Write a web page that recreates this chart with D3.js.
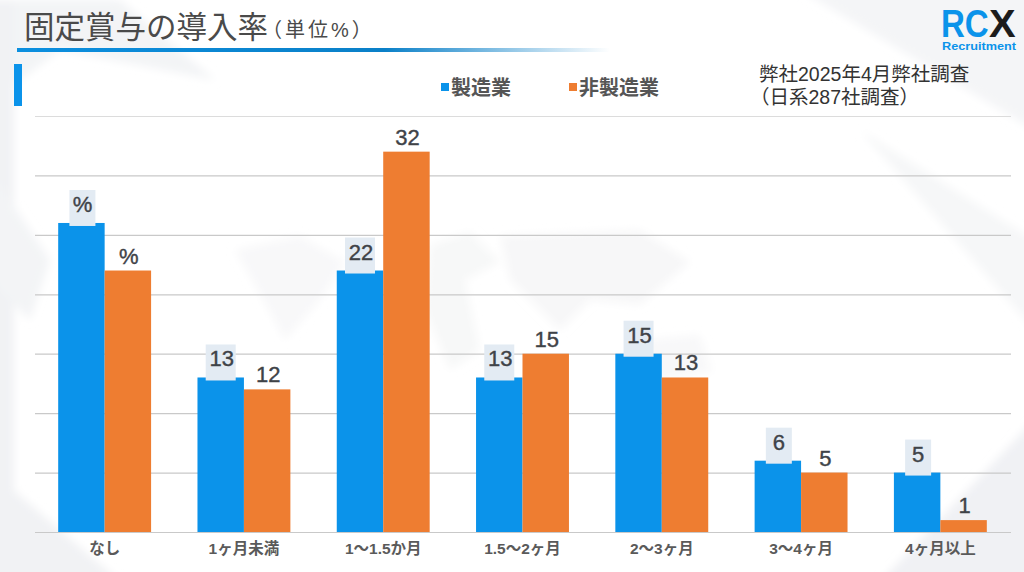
<!DOCTYPE html>
<html lang="ja"><head><meta charset="utf-8">
<script src="https://d3js.org/d3.v7.min.js"></script>
<style>html,body{margin:0;padding:0;background:#fff;overflow:hidden}svg{display:block}
text{font-family:"Liberation Sans","Noto Sans CJK JP",sans-serif}</style></head>
<body><svg id="c" width="1024" height="572"></svg>
<script>
const categories=["なし","1ヶ月未満","1〜1.5か月","1.5〜2ヶ月","2〜3ヶ月","3〜4ヶ月","4ヶ月以上"];
const manufacturing=[26,13,22,13,15,6,5];
const nonManufacturing=[22,12,32,15,13,5,1];
const manufacturingLabels=["%","13","22","13","15","6","5"];
const nonManufacturingLabels=["%","12","32","15","13","5","1"];
const seriesNames=["製造業","非製造業"];
const seriesColors=["#0b93ea","#ee7d31"];
const yTicks=[0,5,10,15,20,25,30,35];

const svg=d3.select("#c");
const defs=svg.append("defs");
const rule=defs.append("linearGradient").attr("id","rule");
[[0,"#0c8fdf",1],[.62,"#0a80c8",1],[1,"#0a80c8",0]].forEach(s=>rule.append("stop").attr("offset",s[0]).attr("stop-color",s[1]).attr("stop-opacity",s[2]));
defs.append("filter").attr("id","soft").attr("x","-20%").attr("y","-20%").attr("width","140%").attr("height","140%")
  .append("feGaussianBlur").attr("stdDeviation",4);

// faint background decoration
const bg=svg.append("g");
bg.append("rect").attr("width",1024).attr("height",572).attr("fill","#ffffff");
const deco=[
 ["M0,0L120,0L215,80L60,50L0,95Z","#f3f4f6"],
 ["M-10,0L14,0L14,582L-10,582Z","#f1f2f4"],
 ["M-10,170L50,260L30,320L-10,280Z","#f3f4f6"],
 ["M-10,470L130,590L-10,590Z","#f1f2f4"],
 ["M800,-10L1034,-10L1034,130Z","#f4f5f7"],
 ["M860,130L1034,240L1034,330Z","#f6f7f8"],
 ["M880,582L1034,420L1034,582Z","#f0f1f4"],
 ["M235,250L300,236L345,262L320,300L285,340L255,285Z","#f8f8f9"],
 ["M430,245L470,232L500,262L465,280L480,350L450,370L425,310Z","#f7f8f8"],
 ["M500,236L640,230L690,262L640,305L590,300L560,330L510,280Z","#f7f7f8"],
 ["M640,340L700,335L712,372L660,380Z","#f8f8f9"]
];
bg.append("g").attr("filter","url(#soft)").selectAll("path").data(deco).join("path").attr("d",d=>d[0]).attr("fill",d=>d[1]);

// header
svg.append("text").attr("x",24).attr("y",38).attr("font-size",30.5).attr("fill","#4a4a4a").text("固定賞与の導入率");
svg.append("text").attr("x",262).attr("y",37).attr("font-size",20).attr("letter-spacing",3).attr("fill","#4a4a4a").text("（単位%）");
svg.append("rect").attr("x",17).attr("y",48).attr("width",593).attr("height",4).attr("fill","url(#rule)");
svg.append("rect").attr("x",14).attr("y",64).attr("width",8).attr("height",42).attr("fill","#0b93ea");

// logo
const logo=svg.append("g").attr("font-weight",700);
logo.append("text").attr("transform","translate(941,37) scale(.87,1)").attr("font-size",38).attr("fill","#0b93ea").text("RC");
logo.append("text").attr("transform","translate(989,37) scale(1.05,1)").attr("font-size",38).attr("fill","#1c1c1c").text("X");
logo.append("text").attr("x",942).attr("y",50).attr("font-size",11.5).attr("fill","#0b93ea").attr("textLength",74).attr("lengthAdjust","spacingAndGlyphs").text("Recruitment");

// note
const note=svg.append("g").attr("font-size",19.5).attr("fill","#333");
note.append("text").attr("x",759).attr("y",81).text("弊社2025年4月弊社調査");
note.append("text").attr("x",750).attr("y",104).text("（日系287社調査）");

// scales
const x=d3.scaleBand().domain(categories).range([35,1010]).paddingInner(.333).paddingOuter(.1665);
const xs=d3.scaleBand().domain([0,1]).range([0,x.bandwidth()]);
const y=d3.scaleLinear().domain([0,35]).range([532,116]);

// grid
const gridG=svg.append("g").attr("transform","translate(35,0)")
 .call(d3.axisLeft(y).tickValues(yTicks).tickSize(-976).tickFormat(""));
gridG.select(".domain").remove();
gridG.selectAll("line").attr("stroke",d=>d===35?"#dcdcdc":"#c9c9c9").attr("stroke-width",1.2);

// bars
const series=[manufacturing,nonManufacturing];
const labels=[manufacturingLabels,nonManufacturingLabels];
series.forEach((vals,s)=>{
 const g=svg.append("g");
 g.selectAll("rect").data(vals).join("rect")
  .attr("x",(d,i)=>x(categories[i])+xs(s)).attr("y",d=>y(d))
  .attr("width",xs.bandwidth()).attr("height",d=>y(0)-y(d)).attr("fill",seriesColors[s]);
});
// label backing for the blue series
svg.append("g").selectAll("rect").data(manufacturing).join("rect")
 .attr("x",(d,i)=>x(categories[i])+xs(0)+xs.bandwidth()/2-(manufacturingLabels[i].length>1?15:13)+ (manufacturingLabels[i].length>1?0:1))
 .attr("y",d=>y(d)-33).attr("width",(d,i)=>manufacturingLabels[i].length>1?30:26).attr("height",36)
 .attr("fill","#e3ebf3");
series.forEach((vals,s)=>{
 svg.append("g").selectAll("text").data(vals).join("text")
  .attr("x",(d,i)=>x(categories[i])+xs(s)+xs.bandwidth()/2+1).attr("y",d=>y(d)-(s?7:11))
  .attr("text-anchor","middle").attr("font-size",22).attr("font-weight",400)
  .attr("stroke","#3f4348").attr("stroke-width",.4).attr("fill","#3f4348").text((d,i)=>labels[s][i]);
});

// x axis
const xAxis=svg.append("g").attr("transform","translate(0,532)").call(d3.axisBottom(x).tickSize(0).tickPadding(10));
xAxis.select(".domain").remove();
xAxis.selectAll("text").attr("font-size",15.5).attr("font-weight",700).attr("fill","#5a5a5a").attr("dy","0.78em").style("font-family",'"Liberation Sans","Noto Sans CJK JP",sans-serif');

// legend
const lg=svg.append("g").selectAll("g").data(seriesNames).join("g").attr("transform",(d,i)=>`translate(${[441,569][i]},0)`);
lg.append("rect").attr("y",83).attr("width",8).attr("height",8).attr("fill",(d,i)=>seriesColors[i]);
lg.append("text").attr("x",10).attr("y",95).attr("font-size",20).attr("font-weight",700).attr("fill","#555").text(d=>d);
</script></body></html>
